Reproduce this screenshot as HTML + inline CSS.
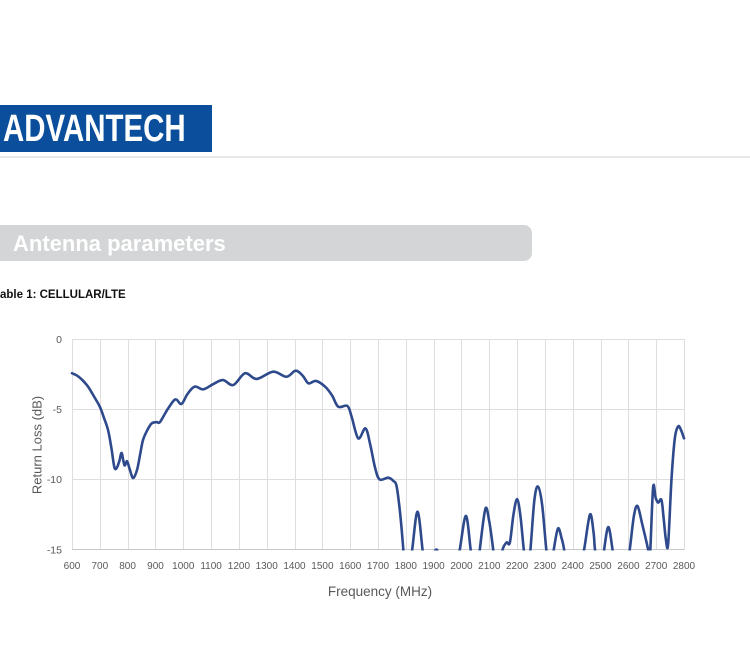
<!DOCTYPE html>
<html>
<head>
<meta charset="utf-8">
<style>
  html, body { margin:0; padding:0; background:#fff; }
  body { width:750px; height:650px; position:relative; overflow:hidden; font-family:"Liberation Sans", Arial, sans-serif; }
  .logo { position:absolute; left:0; top:105px; width:212px; height:47px; background:#0b4f9c; overflow:hidden; }
  .logo span { position:absolute; left:3px; top:1px; font-weight:bold; font-size:38px; color:#fff; line-height:47px; transform:scaleX(0.775); transform-origin:0 50%; white-space:nowrap; letter-spacing:0px; }
  .sep { position:absolute; left:0; top:156px; width:750px; height:2px; background:#e6e8ea; }
  .banner { position:absolute; left:0; top:225px; width:532px; height:36px; background:#d3d5d6; border-radius:0 8px 8px 0; }
  .banner span { position:absolute; left:13px; top:0; line-height:38px; font-size:22px; font-weight:bold; color:#fff; white-space:nowrap; }
  .tbl { position:absolute; left:0; top:289px; font-size:11.5px; font-weight:bold; color:#111; white-space:nowrap; }
  svg { position:absolute; left:0; top:0; }
</style>
</head>
<body>
<div class="logo"><span>ADVANTECH</span></div>
<div class="sep"></div>
<div class="banner"><span>Antenna parameters</span></div>
<div class="tbl">able 1: CELLULAR/LTE</div>

<svg width="750" height="650" viewBox="0 0 750 650" xmlns="http://www.w3.org/2000/svg">
  <defs>
    <clipPath id="pc"><rect x="70" y="330" width="618" height="220.5"/></clipPath>
  </defs>
  <g id="grid" stroke="#dedede" stroke-width="1" shape-rendering="crispEdges"></g>
  <g font-family="Liberation Sans, Arial, sans-serif" fill="#595959">
    <g id="xl" font-size="10" text-anchor="middle"></g>
    <g font-size="10.5" text-anchor="end">
      <text x="62" y="343">0</text>
      <text x="62" y="413">-5</text>
      <text x="62" y="483">-10</text>
      <text x="62" y="553.5">-15</text>
    </g>
    <text x="380" y="596" font-size="13.5" text-anchor="middle">Frequency (MHz)</text>
    <text transform="translate(41.5,445) rotate(-90)" font-size="13" text-anchor="middle">Return Loss (dB)</text>
  </g>
  <g clip-path="url(#pc)">
    <polyline id="fallback" fill="none" stroke="#2e4a8c" stroke-width="2.6" vector-effect="non-scaling-stroke" stroke-linejoin="round"
      transform="matrix(0.27818,0,0,-14,-94.9,339.5)"
      points="600,-2.41 620,-2.6 640,-2.95 659,-3.4 680,-4.1 700,-4.8 715,-5.6 730,-6.5 742,-7.8 752,-9.1 760,-9.2 770,-8.7 778,-8.1 785,-8.7 790,-9.0 798,-8.7 808,-9.3 820,-9.9 834,-9.3 845,-8.2 855,-7.2 870,-6.5 886,-6.0 904,-5.9 916,-5.9 940,-5.1 964,-4.4 976,-4.3 994,-4.6 1015,-3.9 1041,-3.37 1072,-3.56 1108,-3.18 1143,-2.9 1180,-3.25 1222,-2.41 1264,-2.82 1323,-2.3 1371,-2.66 1404,-2.23 1430,-2.6 1450,-3.13 1477,-2.96 1510,-3.37 1535,-4.0 1557,-4.8 1590,-4.75 1605,-5.5 1629,-7.06 1655,-6.35 1672,-7.5 1690,-9.2 1706,-10.0 1737,-9.87 1755,-10.1 1767,-10.5 1780,-12.5 1791,-15 1800,-17.5 1812,-16.5 1823,-15 1842,-12.3 1860,-15 1870,-17 1880,-17 1900,-15.4 1910,-15.0 1920,-15.4 1950,-17 1975,-17 1994,-15 2016,-12.6 2033,-15 2045,-17 2055,-17 2066,-15 2086,-12.1 2100,-13.0 2114,-15 2125,-17 2140,-16 2148,-15 2162,-14.5 2174,-14.5 2187,-12.5 2200,-11.4 2212,-12.6 2224,-15 2236,-17 2248,-15 2262,-11.5 2275,-10.5 2290,-11.8 2305,-15 2318,-17 2332,-15 2347,-13.5 2360,-14.2 2369,-15 2380,-17 2420,-17 2441,-15 2462,-12.5 2475,-13.8 2480,-15 2495,-17 2505,-16.5 2513,-15 2528,-13.4 2543,-15 2555,-17 2590,-17 2605,-15 2620,-12.6 2633,-11.9 2650,-13.2 2671,-15 2675,-15.6 2679,-15 2689,-10.56 2698,-11.3 2707,-11.65 2719,-11.46 2727,-12.8 2735,-14.3 2743,-14.6 2755,-10.0 2767,-7.06 2779,-6.2 2790,-6.5 2800,-7.06"/>
    <path id="curve" fill="none" stroke="#2e4a8c" stroke-width="2.6" stroke-linejoin="round" stroke-linecap="round" d=""/>
  </g>
</svg>
<script>
(function(){
  var NS="http://www.w3.org/2000/svg";
  var X0=72, PX=0.27818, Y0=339.5, PY=14;
  function fx(f){return X0+(f-600)*PX;}
  function fy(d){return Y0-d*PY;}
  var grid=document.getElementById('grid');
  for(var i=0;i<=22;i++){
    var x=Math.round(fx(600+i*100))+0.5;
    var l=document.createElementNS(NS,'line');
    l.setAttribute('x1',x);l.setAttribute('x2',x);l.setAttribute('y1',339.5);l.setAttribute('y2',549.5);
    grid.appendChild(l);
  }
  [0,-5,-10].forEach(function(d){
    var l=document.createElementNS(NS,'line');
    l.setAttribute('x1',72);l.setAttribute('x2',684.5);l.setAttribute('y1',fy(d));l.setAttribute('y2',fy(d));
    grid.appendChild(l);
  });
  var ax=document.createElementNS(NS,'line');
  ax.setAttribute('x1',72);ax.setAttribute('x2',684.5);ax.setAttribute('y1',549.5);ax.setAttribute('y2',549.5);
  ax.setAttribute('stroke','#c8c8c8');
  grid.appendChild(ax);
  var xl=document.getElementById('xl');
  for(var i=0;i<=22;i++){
    var t=document.createElementNS(NS,'text');
    t.setAttribute('x',fx(600+i*100).toFixed(1));t.setAttribute('y',569);
    t.textContent=String(600+i*100);
    xl.appendChild(t);
  }
  var pl=document.getElementById('fallback');
  var raw=pl.getAttribute('points').trim().split(/\s+/).map(function(s){var a=s.split(',');return [fx(+a[0]),fy(+a[1])];});
  var d='M'+raw[0][0].toFixed(2)+','+raw[0][1].toFixed(2);
  for(var k=0;k<raw.length-1;k++){
    var p0=raw[k-1]||raw[k], p1=raw[k], p2=raw[k+1], p3=raw[k+2]||raw[k+1];
    var c1x=p1[0]+(p2[0]-p0[0])/6, c1y=p1[1]+(p2[1]-p0[1])/6;
    var c2x=p2[0]-(p3[0]-p1[0])/6, c2y=p2[1]-(p3[1]-p1[1])/6;
    d+=' C'+c1x.toFixed(2)+','+c1y.toFixed(2)+' '+c2x.toFixed(2)+','+c2y.toFixed(2)+' '+p2[0].toFixed(2)+','+p2[1].toFixed(2);
  }
  document.getElementById('curve').setAttribute('d',d);
  pl.parentNode.removeChild(pl);
})();
</script>
</body>
</html>
